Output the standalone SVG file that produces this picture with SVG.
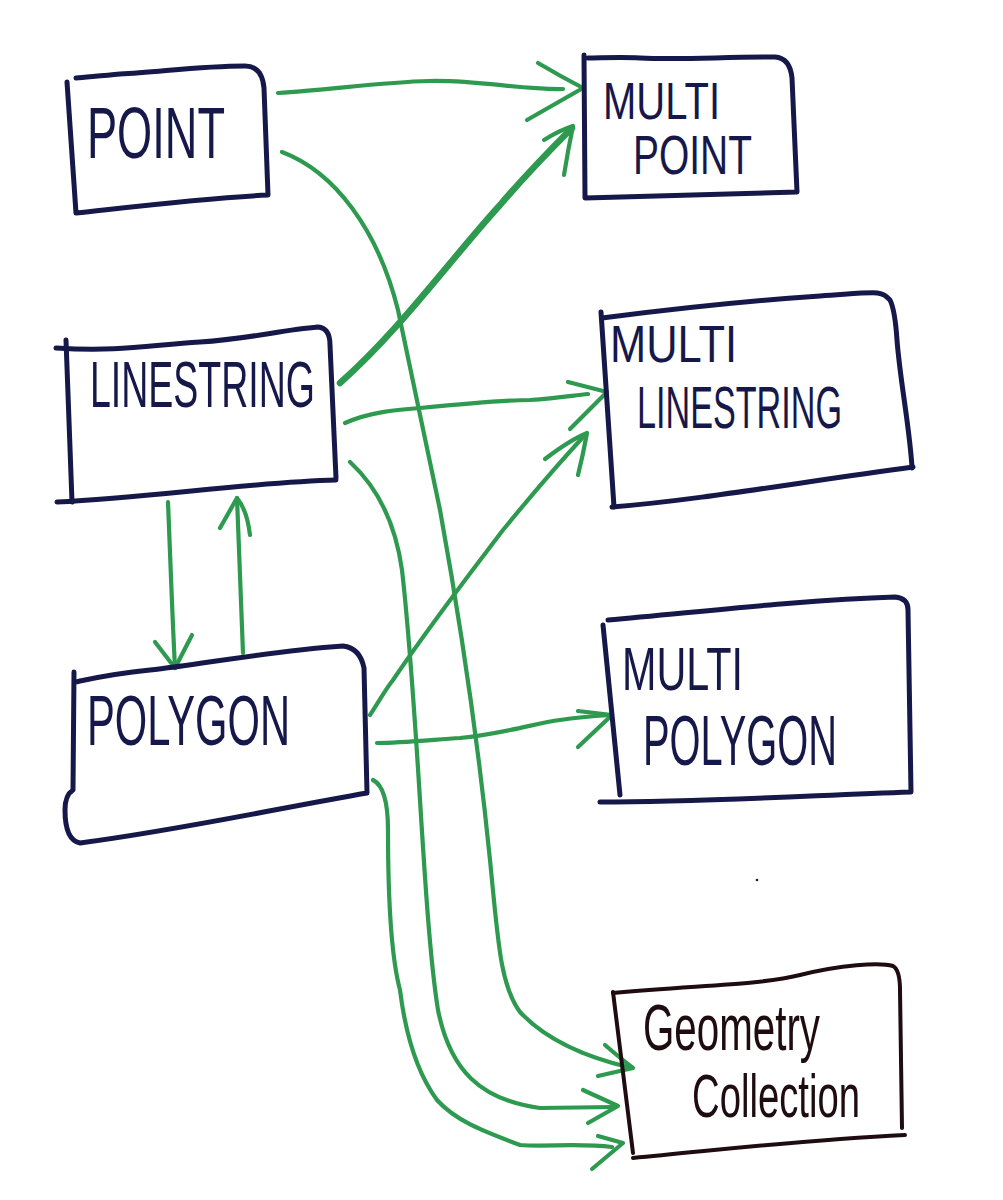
<svg xmlns="http://www.w3.org/2000/svg" width="1003" height="1200" viewBox="0 0 1003 1200">
<style>
.box{fill:none;stroke:#17184a;stroke-width:5;stroke-linecap:round;stroke-linejoin:round}
.box2{fill:none;stroke:#1f0c10;stroke-width:4;stroke-linecap:round;stroke-linejoin:round}
.lbl{font-family:"Liberation Sans","DejaVu Sans",sans-serif;fill:#17184a}
.lbl2{font-family:"Liberation Sans","DejaVu Sans",sans-serif;fill:#1f0c10}
.c{fill:none;stroke:#2e9a50;stroke-width:4.2;stroke-linecap:round;stroke-linejoin:round}
.ct{fill:none;stroke:#2e9a50;stroke-width:6.5;stroke-linecap:round;stroke-linejoin:round}
</style>
<rect width="1003" height="1200" fill="#ffffff"/>
<g id="connectors">
  <!-- POINT -> MULTI POINT -->
  <path class="c" d="M278,93 C 330,90 380,82 430,81 C 480,80 520,90 563,89"/>
  <path class="c" d="M538,63 Q 560,76 583,88 L 527,120"/>
  <!-- LINESTRING -> MULTI POINT (thick) -->
  <path class="ct" d="M340,383 C 400,330 450,260 500,205 C 530,170 555,145 572,128"/>
  <path class="c" d="M544,140 Q 560,130 573,126 Q 568,150 564,175"/>
  <!-- POINT -> GEOMETRY COLLECTION -->
  <path class="c" d="M282,152 C 335,172 378,230 398,310 L 440,510 C 460,620 478,740 490,860 C 498,940 500,985 520,1012 C 548,1042 590,1058 628,1067"/>
  <path class="c" d="M605,1045 Q 620,1058 633,1068 L 598,1076"/>
  <!-- LINESTRING -> MULTI LINESTRING -->
  <path class="c" d="M345,423 C 370,412 395,410 420,408 C 460,404 500,400 530,400 C 560,398 575,395 588,394"/>
  <path class="c" d="M568,382 L 607,392 L 570,429"/>
  <!-- POLYGON -> MULTI LINESTRING -->
  <path class="c" d="M370,715 C 380,700 385,690 393,680 C 430,625 465,580 503,530 C 530,497 560,462 585,435"/>
  <path class="c" d="M545,459 Q 570,440 587,433 Q 583,455 578,475"/>
  <!-- LINESTRING -> GEOMETRY COLLECTION -->
  <path class="c" d="M350,462 C 375,485 395,520 402,570 C 410,640 415,720 420,800 C 425,880 430,960 438,1010 C 450,1070 480,1100 540,1108 L 613,1107"/>
  <path class="c" d="M583,1090 L 618,1106 L 588,1123"/>
  <!-- POLYGON -> MULTI POLYGON -->
  <path class="c" d="M377,743 C 400,743 430,740 460,738 C 480,736 495,733 510,730 C 530,726 545,722 560,720 C 580,717 595,716 610,715"/>
  <path class="c" d="M578,711 L 612,715 L 578,747"/>
  <!-- POLYGON -> GEOMETRY COLLECTION -->
  <path class="c" d="M373,780 C 383,785 388,800 388,830 C 388,900 392,960 400,990 C 405,1030 415,1070 437,1100 C 455,1120 480,1130 520,1145 C 545,1147 580,1143 612,1147"/>
  <path class="c" d="M598,1136 L 623,1143 L 592,1169"/>
  <!-- LINESTRING -> POLYGON -->
  <path class="c" d="M168,502 C 170,550 172,610 175,668"/>
  <path class="c" d="M155,642 L 175,668 L 192,635"/>
  <!-- POLYGON -> LINESTRING -->
  <path class="c" d="M243,653 C 241,600 239,550 237,498"/>
  <path class="c" d="M220,528 L 237,498 Q 247,510 250,535"/>
</g>
<g id="nodes">
  <g id="point">
    <path class="box" d="M67,82 L76,213 C 140,206 205,198 268,195 L 264,88 Q 262,66 245,66 C 200,66 160,72 120,74 C 100,76 85,77 76,78"/>
    <text class="lbl" x="87" y="158" font-size="72" textLength="138" lengthAdjust="spacingAndGlyphs">POINT</text>
  </g>
  <g id="multipoint">
    <path class="box" d="M584,55 L585,198 C 650,196 720,194 797,192 L 792,78 Q 790,58 775,57 C 720,57 680,60 640,58 C 620,57 600,58 588,58"/>
    <text class="lbl" x="603" y="119" font-size="52" textLength="117" lengthAdjust="spacingAndGlyphs">MULTI</text>
    <text class="lbl" x="633" y="174" font-size="55" textLength="119" lengthAdjust="spacingAndGlyphs">POINT</text>
  </g>
  <g id="linestring">
    <path class="box" d="M66,340 L72,502"/>
    <path class="box" d="M56,348 C 120,352 150,345 200,342 S 280,330 318,327 Q 330,328 330,345 L 336,478"/>
    <path class="box" d="M57,502 C 150,498 250,482 336,480"/>
    <text class="lbl" x="90" y="407" font-size="64" textLength="225" lengthAdjust="spacingAndGlyphs">LINESTRING</text>
  </g>
  <g id="multilinestring">
    <path class="box" d="M601,312 L614,507"/>
    <path class="box" d="M602,318 C 680,308 760,300 820,296 S 880,290 890,300 Q 895,310 897,340 C 900,380 910,430 912,468"/>
    <path class="box" d="M612,507 C 700,500 800,482 913,467"/>
    <text class="lbl" x="610" y="362" font-size="52" textLength="127" lengthAdjust="spacingAndGlyphs">MULTI</text>
    <text class="lbl" x="637" y="428" font-size="60" textLength="205" lengthAdjust="spacingAndGlyphs">LINESTRING</text>
  </g>
  <g id="polygon">
    <path class="box" d="M74,672 L73,790 Q 65,795 65,810 Q 65,840 80,843 C 180,830 280,808 367,793 L 364,668 Q 360,648 343,646 C 260,652 200,665 150,670 C 110,674 85,680 75,682"/>
    <text class="lbl" x="87" y="745" font-size="70" textLength="203" lengthAdjust="spacingAndGlyphs">POLYGON</text>
  </g>
  <g id="multipolygon">
    <path class="box" d="M603,625 L620,795"/>
    <path class="box" d="M608,620 C 700,612 800,600 895,597 Q 908,598 908,610 L 911,792 C 800,796 700,802 600,802"/>
    <text class="lbl" x="622" y="690" font-size="62" textLength="121" lengthAdjust="spacingAndGlyphs">MULTI</text>
    <text class="lbl" x="643" y="765" font-size="70" textLength="194" lengthAdjust="spacingAndGlyphs">POLYGON</text>
  </g>
  <g id="geometrycollection">
    <path class="box2" d="M613,992 L633,1153"/>
    <path class="box2" d="M613,993 C 700,985 760,985 800,975 S 880,962 893,966 Q 900,970 900,990 L 902,1128"/>
    <path class="box2" d="M633,1158 C 720,1150 800,1140 905,1135"/>
    <text class="lbl2" x="643" y="1050" font-size="64" textLength="177" lengthAdjust="spacingAndGlyphs">Geometry</text>
    <text class="lbl2" x="692" y="1117" font-size="62" textLength="168" lengthAdjust="spacingAndGlyphs">Collection</text>
  </g>
</g>
<circle cx="757" cy="880" r="1.3" fill="#17184a"/>
</svg>
